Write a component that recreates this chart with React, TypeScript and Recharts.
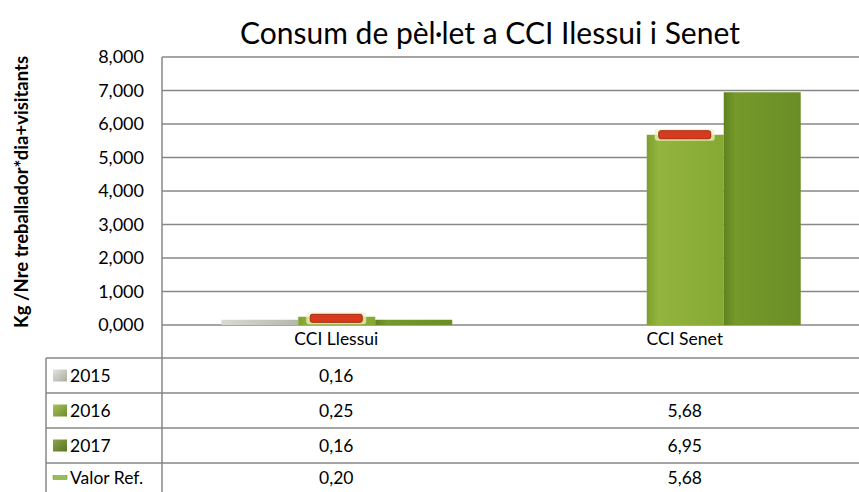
import { ComposedChart, Bar, Line, XAxis, YAxis, CartesianGrid } from 'recharts'

const categories = ['CCI Llessui', 'CCI Senet']
const v2015: (number | null)[] = [0.16, null]
const v2016: (number | null)[] = [0.25, 5.68]
const v2017: (number | null)[] = [0.16, 6.95]
const valorRef: (number | null)[] = [0.2, 5.68]
const yTicks = [0, 1, 2, 3, 4, 5, 6, 7, 8]

const title = 'Consum de pèl·let a CCI Ilessui i Senet'
const yLabel = 'Kg /Nre treballador*dia+visitants'

const W = 859
const H = 492
const FONT = 'Lato, "Open Sans", sans-serif'
const GRID = '#878787'

// plot area
const PLOT_L = 162
const PLOT_T = 57
const PLOT_B = 325
const ROWS = [358, 393, 428, 463]
const TABLE_L = 46

const data = categories.map((name, i) => ({
  name,
  y2015: v2015[i],
  y2016: v2016[i],
  y2017: v2017[i],
  valor: valorRef[i],
}))

const fmtAxis = (v: number) => v.toFixed(3).replace('.', ',')
const fmtCell = (v: number | null) => (v == null ? '' : v.toFixed(2).replace('.', ','))

const series = [
  { key: '2015', values: v2015, icon: 'url(#g2015)' },
  { key: '2016', values: v2016, icon: 'url(#g2016)' },
  { key: '2017', values: v2017, icon: 'url(#g2017)' },
  { key: 'Valor Ref.', values: valorRef, icon: 'line' },
]

const RefDot = (props: any) => {
  const { cx, cy } = props
  if (cx == null || cy == null) return null
  return (
    <g key={`ref-${cx}`}>
      <rect x={cx - 30} y={cy - 6} width={60} height={12} rx={3} fill="#f2f0c4" opacity={0.75} />
      <rect x={cx - 26} y={cy - 4} width={52} height={8} rx={2} fill="#d83a1e" stroke="#a52a12" strokeWidth={1} />
    </g>
  )
}

function Table() {
  const colW = (W - PLOT_L) / categories.length
  return (
    <svg width={W} height={H} style={{ position: 'absolute', left: 0, top: 0, pointerEvents: 'none' }}>
      <defs>
        <linearGradient id="g2015" x1="0" y1="0" x2="1" y2="1">
          <stop offset="0%" stopColor="#e4e5df" />
          <stop offset="100%" stopColor="#a9ac9f" />
        </linearGradient>
        <linearGradient id="g2016" x1="0" y1="0" x2="1" y2="1">
          <stop offset="0%" stopColor="#a6c25a" />
          <stop offset="100%" stopColor="#6e8c2c" />
        </linearGradient>
        <linearGradient id="g2017" x1="0" y1="0" x2="1" y2="1">
          <stop offset="0%" stopColor="#8aa54a" />
          <stop offset="100%" stopColor="#5a7424" />
        </linearGradient>
      </defs>
      <text x={490} y={44} textAnchor="middle" fontFamily={FONT} fontSize={30} fill="#000">
        {title}
      </text>
      <text
        transform={`translate(28, 192) rotate(-90)`}
        textAnchor="middle"
        fontFamily={FONT}
        fontSize={18.5}
        fontWeight="bold"
        fill="#000"
      >
        {yLabel}
      </text>
      <line x1={PLOT_L} x2={PLOT_L} y1={PLOT_B} y2={H} stroke={GRID} strokeWidth={1.5} />
      <line x1={TABLE_L} x2={TABLE_L} y1={ROWS[0]} y2={H} stroke={GRID} strokeWidth={1.5} />
      {ROWS.map((y) => (
        <line key={y} x1={TABLE_L} x2={W} y1={y} y2={y} stroke={GRID} strokeWidth={1.5} />
      ))}
      {series.map((s, r) => {
        const top = ROWS[r]
        const bottom = r + 1 < ROWS.length ? ROWS[r + 1] : H
        const mid = (top + bottom) / 2
        return (
          <g key={s.key}>
            {s.icon === 'line' ? (
              <rect x={53} y={mid - 2} width={14} height={4} fill="#9bbb59" stroke="#6e8c2c" strokeWidth={0.5} />
            ) : (
              <rect x={53} y={mid - 6} width={14} height={12} fill={s.icon} />
            )}
            <text x={70} y={mid + 6} fontFamily={FONT} fontSize={17.5} fill="#000">
              {s.key}
            </text>
            {s.values.map((v, i) => (
              <text
                key={i}
                x={PLOT_L + colW * (i + 0.5)}
                y={mid + 6}
                textAnchor="middle"
                fontFamily={FONT}
                fontSize={17.5}
                fill="#000"
              >
                {fmtCell(v)}
              </text>
            ))}
          </g>
        )
      })}
    </svg>
  )
}

export default function App() {
  return (
    <div style={{ position: 'absolute', left: 0, top: 0, width: W, height: H, background: '#fff' }}>
      <ComposedChart
        width={W}
        height={H}
        data={data}
        margin={{ top: PLOT_T, right: 0, bottom: H - PLOT_B - 33, left: 0 }}
        barCategoryGap="17%"
        barGap={0}
      >
        <defs>
          <linearGradient id="b2015" x1="0" y1="0" x2="1" y2="0">
            <stop offset="0%" stopColor="#d9dbd3" />
            <stop offset="100%" stopColor="#b5b8ac" />
          </linearGradient>
          <linearGradient id="b2016" x1="0" y1="0" x2="1" y2="0">
            <stop offset="0%" stopColor="#7d9f2c" />
            <stop offset="15%" stopColor="#93b53e" />
            <stop offset="100%" stopColor="#86a934" />
          </linearGradient>
          <linearGradient id="b2017" x1="0" y1="0" x2="1" y2="0">
            <stop offset="0%" stopColor="#5f8220" />
            <stop offset="15%" stopColor="#76992b" />
            <stop offset="100%" stopColor="#6a8e25" />
          </linearGradient>
        </defs>
        <CartesianGrid vertical={false} stroke={GRID} strokeWidth={1.5} />
        <XAxis
          dataKey="name"
          axisLine={false}
          tickLine={false}
          height={33}
          tick={{ fill: '#000', fontSize: 17.5, fontFamily: FONT }}
          tickMargin={2}
        />
        <YAxis
          width={PLOT_L}
          domain={[0, 8]}
          ticks={yTicks}
          tickFormatter={fmtAxis}
          axisLine={{ stroke: GRID, strokeWidth: 1.5 }}
          tickLine={false}
          tickMargin={12}
          tick={{ fill: '#000', fontSize: 18, fontFamily: FONT }}
        />
        <Bar dataKey="y2015" fill="url(#b2015)" isAnimationActive={false} />
        <Bar dataKey="y2016" fill="url(#b2016)" isAnimationActive={false} />
        <Bar dataKey="y2017" fill="url(#b2017)" isAnimationActive={false} />
        <Line dataKey="valor" stroke="none" dot={RefDot} activeDot={false} isAnimationActive={false} />
      </ComposedChart>
      <Table />
    </div>
  )
}
